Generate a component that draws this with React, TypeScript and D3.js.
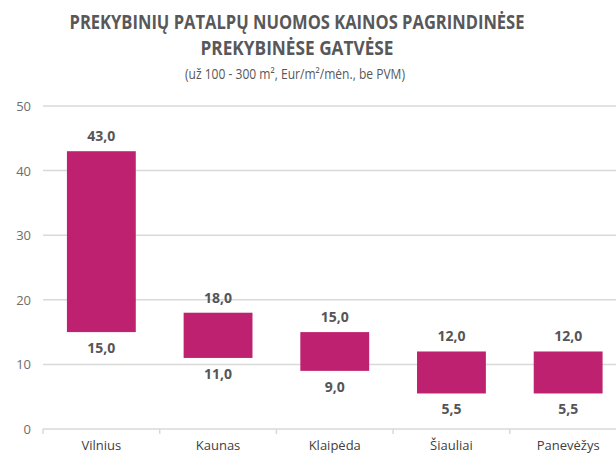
import React, { useRef, useEffect } from "react";
import * as d3 from "d3";

const cities = ["Vilnius", "Kaunas", "Klaipėda", "Šiauliai", "Panevėžys"];
const minRent = [15.0, 11.0, 9.0, 5.5, 5.5];
const maxRent = [43.0, 18.0, 15.0, 12.0, 12.0];
const yTicks = [0, 10, 20, 30, 40, 50];

const fmt = (v: number) => v.toFixed(1).replace(".", ",");

const App = () => {
  const svgRef = useRef<SVGSVGElement | null>(null);

  useEffect(() => {
    const svg = d3.select(svgRef.current);
    svg.selectAll("*").remove();

    const width = 616;
    const height = 453;
    const margin = { top: 106, left: 43, bottom: 24 };

    const x = d3
      .scaleBand()
      .domain(cities)
      .range([margin.left, margin.left + 116.7 * cities.length])
      .paddingInner(0.41)
      .paddingOuter(0.205);

    const y = d3
      .scaleLinear()
      .domain([0, 50])
      .range([height - margin.bottom, margin.top]);

    // title
    const title = svg.append("g").attr("font-family", "'Open Sans', sans-serif").attr("fill", "#58585a");
    title
      .append("text")
      .attr("x", 297)
      .attr("y", 29)
      .attr("text-anchor", "middle")
      .attr("font-size", 20)
      .attr("font-weight", "bold")
      .attr("textLength", 455)
      .attr("lengthAdjust", "spacingAndGlyphs")
      .text("PREKYBINIŲ PATALPŲ NUOMOS KAINOS PAGRINDINĖSE");
    title
      .append("text")
      .attr("x", 297)
      .attr("y", 55)
      .attr("text-anchor", "middle")
      .attr("font-size", 20)
      .attr("font-weight", "bold")
      .attr("textLength", 193)
      .attr("lengthAdjust", "spacingAndGlyphs")
      .text("PREKYBINĖSE GATVĖSE");
    title
      .append("text")
      .attr("x", 295)
      .attr("y", 79)
      .attr("text-anchor", "middle")
      .attr("font-size", 14)
      .attr("textLength", 220)
      .attr("lengthAdjust", "spacingAndGlyphs")
      .text("(už 100 - 300 m², Eur/m²/mėn., be PVM)");

    // grid
    svg
      .append("g")
      .selectAll("line")
      .data(yTicks)
      .join("line")
      .attr("x1", margin.left)
      .attr("x2", width)
      .attr("y1", (d) => y(d))
      .attr("y2", (d) => y(d))
      .attr("stroke", "#d9d9d9")
      .attr("stroke-width", 1.5);

    // category boundary ticks
    const step = x.step();
    svg
      .append("g")
      .selectAll("line")
      .data(d3.range(0, cities.length))
      .join("line")
      .attr("x1", (i) => margin.left + step * i)
      .attr("x2", (i) => margin.left + step * i)
      .attr("y1", y(0))
      .attr("y2", y(0) + 5)
      .attr("stroke", "#d9d9d9")
      .attr("stroke-width", 1.5);

    svg
      .append("g")
      .selectAll("text")
      .data(yTicks)
      .join("text")
      .attr("x", 31)
      .attr("y", (d) => y(d) + 5)
      .attr("text-anchor", "end")
      .attr("font-family", "'Open Sans', sans-serif")
      .attr("font-size", 13)
      .attr("fill", "#6d6d6d")
      .text((d) => d);

    // bars
    svg
      .append("g")
      .selectAll("rect")
      .data(cities)
      .join("rect")
      .attr("x", (d) => x(d)!)
      .attr("width", x.bandwidth())
      .attr("y", (d, i) => y(maxRent[i]))
      .attr("height", (d, i) => y(minRent[i]) - y(maxRent[i]))
      .attr("fill", "#be216f");

    const labels = svg
      .append("g")
      .attr("font-family", "'Open Sans', sans-serif")
      .attr("font-size", 14)
      .attr("font-weight", "bold")
      .attr("fill", "#555558")
      .attr("text-anchor", "middle");

    labels
      .selectAll("text.max")
      .data(cities)
      .join("text")
      .attr("class", "max")
      .attr("x", (d) => x(d)! + x.bandwidth() / 2)
      .attr("y", (d, i) => y(maxRent[i]) - 10)
      .text((d, i) => fmt(maxRent[i]));

    labels
      .selectAll("text.min")
      .data(cities)
      .join("text")
      .attr("class", "min")
      .attr("x", (d) => x(d)! + x.bandwidth() / 2)
      .attr("y", (d, i) => y(minRent[i]) + 21)
      .text((d, i) => fmt(minRent[i]));

    svg
      .append("g")
      .selectAll("text")
      .data(cities)
      .join("text")
      .attr("x", (d) => x(d)! + x.bandwidth() / 2)
      .attr("y", 450)
      .attr("text-anchor", "middle")
      .attr("font-family", "'Open Sans', sans-serif")
      .attr("font-size", 13)
      .attr("fill", "#404040")
      .text((d) => d);
  }, []);

  return (
    <svg
      ref={svgRef}
      width={616}
      height={453}
      style={{ position: "absolute", left: 0, top: 0 }}
    ></svg>
  );
};

export default App;
